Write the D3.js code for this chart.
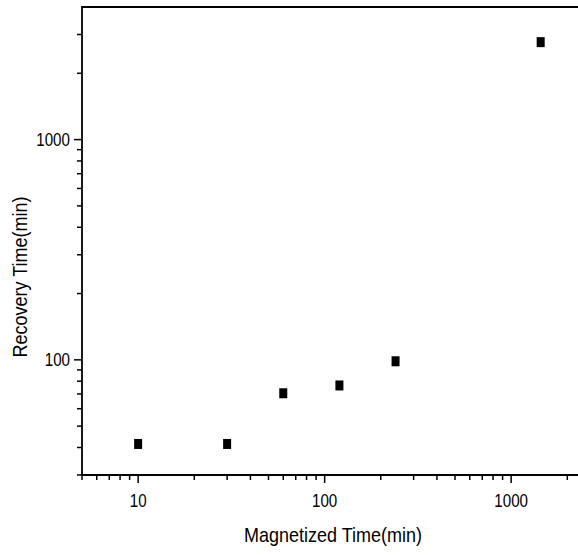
<!DOCTYPE html>
<html>
<head>
<meta charset="utf-8">
<script src="https://cdn.jsdelivr.net/npm/d3@7"></script>
<style>
  body { margin: 0; background: #fff; }
  text { font-family: "Liberation Sans", Arial, sans-serif; fill: #000; }
</style>
</head>
<body>
<div id="chart"></div>
<script>
// magnetized time (min) vs recovery time (min), log-log
let magnetizedTime = [10, 30, 60, 120, 240, 1440];
let recoveryTime   = [41.5, 41.5, 70.5, 76.5, 98.5, 2770];

let xDomain = [5, 2500];
let yDomain = [30, 4000];
let xLabel = "Magnetized Time(min)";
let yLabel = "Recovery Time(min)";

let width = 578, height = 555;
let plotLeft = 82, plotTop = 7, plotBottom = 475;
let xDecade = 186.5;
let squeeze = 0.82; // tick labels are drawn narrow in the original

let xScale = d3.scaleLog().domain(xDomain)
  .range([plotLeft, plotLeft + xDecade * Math.log10(xDomain[1] / xDomain[0])]);
let yScale = d3.scaleLog().domain(yDomain).range([plotBottom, plotTop]);

let svg = d3.select("#chart").append("svg")
  .attr("width", width)
  .attr("height", height);

function isMajor(v) {
  return Math.abs(Math.log10(v) - Math.round(Math.log10(v))) < 1e-9;
}

// x axis ticks
let xTicks = xScale.ticks().filter(v => v >= xDomain[0] && v <= xDomain[1]);
svg.append("g").selectAll("line")
  .data(xTicks)
  .enter().append("line")
  .attr("x1", d => xScale(d)).attr("x2", d => xScale(d))
  .attr("y1", plotBottom)
  .attr("y2", d => plotBottom + (isMajor(d) ? 8 : 5))
  .attr("stroke", "#000").attr("stroke-width", 1.5);
svg.append("g").selectAll("text")
  .data(xTicks.filter(isMajor))
  .enter().append("text")
  .attr("transform", d => "translate(" + xScale(d) + ",507) scale(" + squeeze + ",1)")
  .attr("text-anchor", "middle")
  .attr("font-size", 18.5)
  .text(d => d);

// y axis ticks
let yTicks = yScale.ticks().filter(v => v >= yDomain[0] && v < yDomain[1]);
svg.append("g").selectAll("line")
  .data(yTicks)
  .enter().append("line")
  .attr("y1", d => yScale(d)).attr("y2", d => yScale(d))
  .attr("x1", plotLeft)
  .attr("x2", d => plotLeft - (isMajor(d) ? 8 : 5))
  .attr("stroke", "#000").attr("stroke-width", 1.5);
svg.append("g").selectAll("text")
  .data(yTicks.filter(isMajor))
  .enter().append("text")
  .attr("transform", d => "translate(70," + (yScale(d) + 6.6) + ") scale(" + squeeze + ",1)")
  .attr("text-anchor", "end")
  .attr("font-size", 18.5)
  .text(d => d);

// frame: left, bottom, top (no right side in view)
svg.append("path")
  .attr("d", "M" + width + "," + plotTop + "H" + plotLeft + "V" + plotBottom + "H" + width)
  .attr("fill", "none")
  .attr("stroke", "#000")
  .attr("stroke-width", 1.8);

// points
svg.append("g").selectAll("rect")
  .data(magnetizedTime)
  .enter().append("rect")
  .attr("x", (d, i) => xScale(d) - 4)
  .attr("y", (d, i) => yScale(recoveryTime[i]) - 5)
  .attr("width", 8)
  .attr("height", 10)
  .attr("fill", "#000");

// axis titles
svg.append("text")
  .attr("transform", "translate(333,541.5) scale(0.9,1)")
  .attr("text-anchor", "middle")
  .attr("font-size", 20)
  .text(xLabel);

svg.append("text")
  .attr("transform", "translate(26.5,277) rotate(-90) scale(0.9,1)")
  .attr("text-anchor", "middle")
  .attr("font-size", 20)
  .text(yLabel);
</script>
</body>
</html>
